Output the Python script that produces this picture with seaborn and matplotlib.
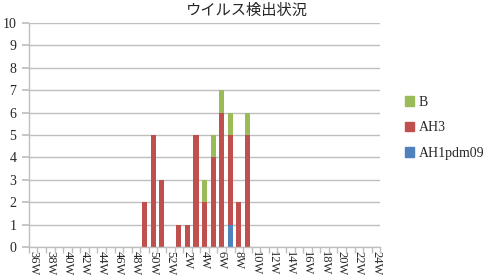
import matplotlib
matplotlib.use("Agg")
import matplotlib.pyplot as plt
import seaborn as sns
import numpy as np
import pandas as pd
from matplotlib.patches import Patch

weeks = [f"{w}W" for w in range(36, 53)] + [f"{w}W" for w in range(1, 25)]
ah1 = [0]*41
ah3 = [0]*41
b = [0]*41
vals = {  # week: (AH1pdm09, AH3, B)
    "49W": (0, 2, 0), "50W": (0, 5, 0), "51W": (0, 3, 0),
    "1W": (0, 1, 0), "2W": (0, 1, 0), "3W": (0, 5, 0),
    "4W": (0, 2, 1), "5W": (0, 4, 1), "6W": (0, 6, 1),
    "7W": (1, 4, 1), "8W": (0, 2, 0), "9W": (0, 5, 1),
}
for k, (a, h, bb) in vals.items():
    i = weeks.index(k)
    ah1[i], ah3[i], b[i] = a, h, bb

series = ["AH1pdm09", "AH3", "B"]
colors = {"AH1pdm09": "#4F81BD", "AH3": "#C0504D", "B": "#9BBB59"}

sns.set_theme(style="white")
plt.rcParams['font.family'] = ['Liberation Serif', 'Noto Sans CJK JP']

fig = plt.figure(figsize=(4.9, 2.75), dpi=100)
ax = fig.add_axes([0.059, 0.102, 0.717, 0.814])

df = pd.DataFrame({"week": weeks, "AH1pdm09": ah1, "AH3": ah3, "B": b})
bottom = np.zeros(len(weeks))
for s in series:
    sns.barplot(data=df, x="week", y=s, order=weeks, color=colors[s],
                saturation=1, width=0.6, bottom=bottom, ax=ax, linewidth=0)
    bottom = bottom + df[s].values

ax.set_ylim(0, 10)
ax.set_xlim(-0.5, len(weeks) - 0.5)
ax.set_yticks(range(0, 11))
ax.yaxis.grid(True, color="#BFBFBF", linewidth=1)
ax.set_axisbelow(True)
ax.set_xlabel("")
ax.set_ylabel("")
ax.set_xticks(range(0, len(weeks), 2))
ax.set_xticklabels(weeks[::2], rotation=-90, fontsize=9)
ax.set_xticks(np.arange(-0.5, len(weeks), 1), minor=True)
ax.tick_params(axis="x", which="major", length=0, pad=3)
ax.tick_params(axis="x", which="minor", length=4, color="#BFBFBF", direction="out", bottom=True)
ax.tick_params(axis="y", length=5, color="#BFBFBF", direction="out", left=True, labelsize=10, pad=4)
for sp in ["top", "right"]:
    ax.spines[sp].set_visible(False)
for sp in ["left", "bottom"]:
    ax.spines[sp].set_color("#BFBFBF")
    ax.spines[sp].set_linewidth(1)

ax.set_title("ウイルス検出状況", fontsize=11, family=['Noto Sans CJK JP'], pad=6, x=0.62)

handles = [Patch(color=colors[s]) for s in ["B", "AH3", "AH1pdm09"]]
fig.legend(handles, ["B", "AH3", "AH1pdm09"], loc="center left",
           bbox_to_anchor=(0.80, 0.535), frameon=False, fontsize=10,
           handlelength=0.7, handleheight=0.7, handletextpad=0.3, labelspacing=0.9)

fig.savefig("out.png", dpi=100)
